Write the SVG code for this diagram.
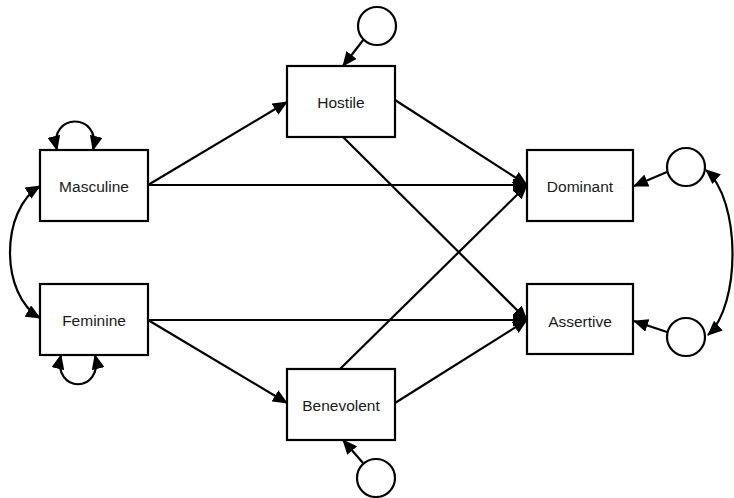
<svg xmlns="http://www.w3.org/2000/svg" width="734" height="498" viewBox="0 0 734 498">
<defs>
<marker id="ah" markerUnits="userSpaceOnUse" markerWidth="15" markerHeight="13" refX="14" refY="6.5" orient="auto-start-reverse" viewBox="0 0 15 13">
<path d="M0,0 L15,6.5 L0,13 z" fill="#000"/>
</marker>
<style>
.box{fill:#fff;stroke:#000;stroke-width:2.2}
.err{fill:#fff;stroke:#000;stroke-width:2.2}
.lbl{font-family:"Liberation Sans",Arial,sans-serif;font-size:15.5px;fill:#1a1a1a;text-anchor:middle;dominant-baseline:central}
.c{fill:none;stroke:#000;stroke-width:2.2;marker-end:url(#ah)}
.d{fill:none;stroke:#000;stroke-width:2.2;marker-start:url(#ah);marker-end:url(#ah)}
</style>
</defs>
<rect width="734" height="498" fill="#fff"/>
<g id="connectors">
<line class="c" x1="148" y1="185" x2="287" y2="102"/>
<line class="c" x1="148" y1="185" x2="527" y2="185"/>
<line class="c" x1="395" y1="100" x2="527" y2="185"/>
<line class="c" x1="343" y1="137" x2="527" y2="320"/>
<line class="c" x1="148" y1="320" x2="527" y2="320"/>
<line class="c" x1="148" y1="320" x2="287" y2="403"/>
<line class="c" x1="340" y1="369" x2="527" y2="185"/>
<line class="c" x1="395" y1="403" x2="527" y2="320"/>
<line class="c" x1="364" y1="39" x2="343" y2="66"/>
<line class="c" x1="363" y1="463" x2="343" y2="440"/>
<line class="c" x1="667" y1="172" x2="634" y2="186"/>
<line class="c" x1="667" y1="332" x2="634" y2="321"/>
<path class="d" d="M40,186 C0,210 0,295 40,318"/>
<path class="d" d="M706,170 C741,200 741,305 708,335"/>
<path class="d" d="M57,150 C48,112 102,112 93,150"/>
<path class="d" d="M61,355 C52,394 104,394 95,355"/>
</g>
<g id="masculine"><rect class="box" x="40" y="150" width="108" height="71"/><text class="lbl" x="94" y="186">Masculine</text></g>
<g id="feminine"><rect class="box" x="40" y="284" width="108" height="71"/><text class="lbl" x="94" y="320">Feminine</text></g>
<g id="hostile"><rect class="box" x="287" y="66" width="108" height="71"/><text class="lbl" x="341" y="102">Hostile</text></g>
<g id="benevolent"><rect class="box" x="287" y="369" width="108" height="71"/><text class="lbl" x="341" y="405">Benevolent</text></g>
<g id="dominant"><rect class="box" x="527" y="150" width="106" height="71"/><text class="lbl" x="580" y="186">Dominant</text></g>
<g id="assertive"><rect class="box" x="527" y="284" width="106" height="70"/><text class="lbl" x="580" y="321">Assertive</text></g>
<g id="e_hostile"><circle class="err" cx="377" cy="26" r="19"/></g>
<g id="e_benevolent"><circle class="err" cx="376" cy="478" r="19"/></g>
<g id="e_dominant"><circle class="err" cx="686" cy="167" r="19"/></g>
<g id="e_assertive"><circle class="err" cx="686" cy="337" r="19"/></g>
</svg>
